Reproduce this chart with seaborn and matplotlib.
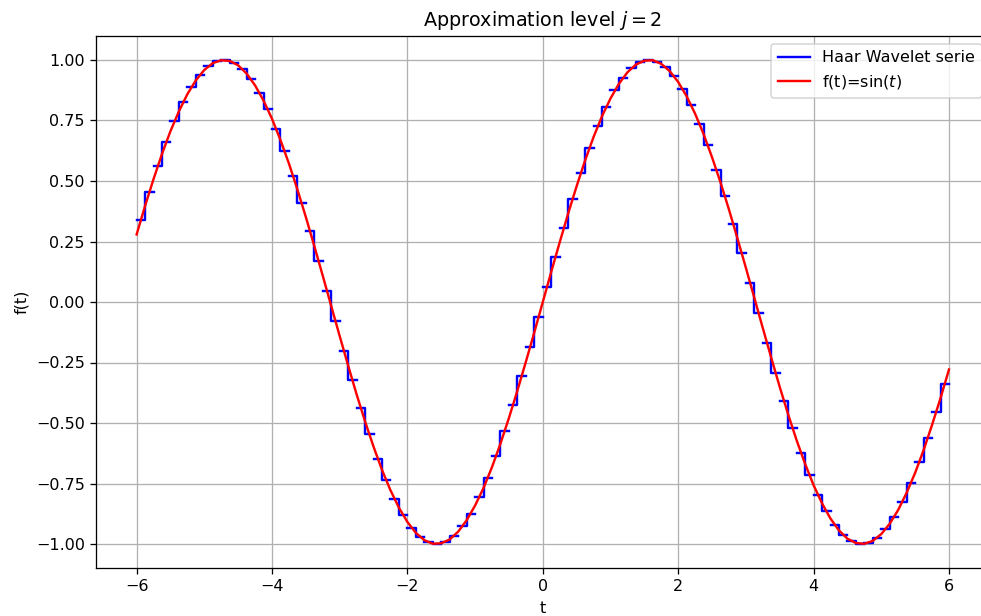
import numpy as np
import pandas as pd
import matplotlib
matplotlib.use("Agg")
import matplotlib.pyplot as plt
import seaborn as sns
from matplotlib.lines import Line2D

# ---- data ----
t_min, t_max = -6.0, 6.0
n_half_steps = 96          # steps of width 1/8 (pairs per 1/4 interval)

# Haar approximation values on each 1/8 sub-interval, from t=-6 to t=6
haar_values = [
    0.339, 0.453, 0.561, 0.660, 0.748, 0.825, 0.889, 0.939, 0.975, 0.995,
    1.000, 0.989, 0.962, 0.921, 0.865, 0.796, 0.714, 0.622, 0.519, 0.409,
    0.292, 0.170, 0.046, -0.079, -0.203, -0.323, -0.439, -0.547, -0.647, -0.737,
    -0.816, -0.882, -0.934, -0.971, -0.993, -1.000, -0.991, -0.967, -0.927, -0.874,
    -0.806, -0.726, -0.635, -0.533, -0.424, -0.307, -0.186, -0.062,
    0.062, 0.186, 0.307, 0.424, 0.533, 0.635, 0.726, 0.806, 0.874, 0.927,
    0.967, 0.991, 1.000, 0.993, 0.971, 0.934, 0.882, 0.816, 0.737, 0.647,
    0.547, 0.439, 0.323, 0.203, 0.079, -0.046, -0.170, -0.292, -0.409, -0.519,
    -0.622, -0.714, -0.796, -0.865, -0.921, -0.962, -0.989, -1.000, -0.995, -0.975,
    -0.939, -0.889, -0.825, -0.748, -0.660, -0.561, -0.453, -0.339,
]

# f(t) = sin(t) sampled every 1/8 from t=-6 to t=6
sin_values = [
    0.279, 0.397, 0.508, 0.612, 0.706, 0.788, 0.859, 0.916, 0.959, 0.987,
    0.999, 0.996, 0.978, 0.944, 0.895, 0.832, 0.757, 0.669, 0.572, 0.465,
    0.351, 0.231, 0.108, -0.017, -0.141, -0.263, -0.382, -0.494, -0.598, -0.694,
    -0.778, -0.850, -0.909, -0.954, -0.984, -0.999, -0.997, -0.981, -0.949, -0.902,
    -0.841, -0.768, -0.682, -0.585, -0.479, -0.366, -0.247, -0.125,
    0.000,
    0.125, 0.247, 0.366, 0.479, 0.585, 0.682, 0.768, 0.841, 0.902, 0.949,
    0.981, 0.997, 0.999, 0.984, 0.954, 0.909, 0.850, 0.778, 0.694, 0.598,
    0.494, 0.382, 0.263, 0.141, 0.017, -0.108, -0.231, -0.351, -0.465, -0.572,
    -0.669, -0.757, -0.832, -0.895, -0.944, -0.978, -0.996, -0.999, -0.987, -0.959,
    -0.916, -0.859, -0.788, -0.706, -0.612, -0.508, -0.397, -0.279,
]

title = "Approximation level $j=2$"
label_haar = "Haar Wavelet serie"
label_sin = "f(t)=sin($t$)"

# ---- build tables ----
edges = np.linspace(t_min, t_max, n_half_steps + 1)
rows = []
for piece in range(n_half_steps // 2):
    a, m, b = edges[2 * piece], edges[2 * piece + 1], edges[2 * piece + 2]
    v1, v2 = haar_values[2 * piece], haar_values[2 * piece + 1]
    for order, (tt, vv) in enumerate([(a, v1), (m, v1), (m, v2), (b, v2)]):
        rows.append({"t": tt, "v": vv, "piece": piece, "order": order})
haar_df = pd.DataFrame(rows)

sin_df = pd.DataFrame({"t": np.linspace(t_min, t_max, len(sin_values)),
                       "v": sin_values})

# ---- figure ----
DPI = 115
fig = plt.figure(figsize=(981 / DPI, 616 / DPI), dpi=DPI)
ax = fig.add_axes([96 / 981, (616 - 568.2) / 616, 893.6 / 981, (568.2 - 35.8) / 616])

sns.lineplot(data=haar_df, x="t", y="v", units="piece", estimator=None,
             sort=False, color="blue", linewidth=1.5, ax=ax, legend=False)
sns.lineplot(data=sin_df, x="t", y="v", estimator=None, sort=False,
             color="red", linewidth=1.5, ax=ax, legend=False)

ax.set_xlim(-6.6, 6.6)
ax.set_ylim(-1.1, 1.1)
ax.set_xticks([-6, -4, -2, 0, 2, 4, 6])
ax.set_yticks([-1.0, -0.75, -0.5, -0.25, 0.0, 0.25, 0.5, 0.75, 1.0])
ax.grid(True, color="#b0b0b0", linewidth=0.8)
ax.set_axisbelow(True)
ax.set_title(title, fontsize=12)
ax.set_xlabel("t")
ax.set_ylabel("f(t)")

handles = [Line2D([], [], color="blue", linewidth=1.5),
           Line2D([], [], color="red", linewidth=1.5)]
ax.legend(handles, [label_haar, label_sin], loc="upper right")

fig.savefig("out.png", dpi=DPI)
